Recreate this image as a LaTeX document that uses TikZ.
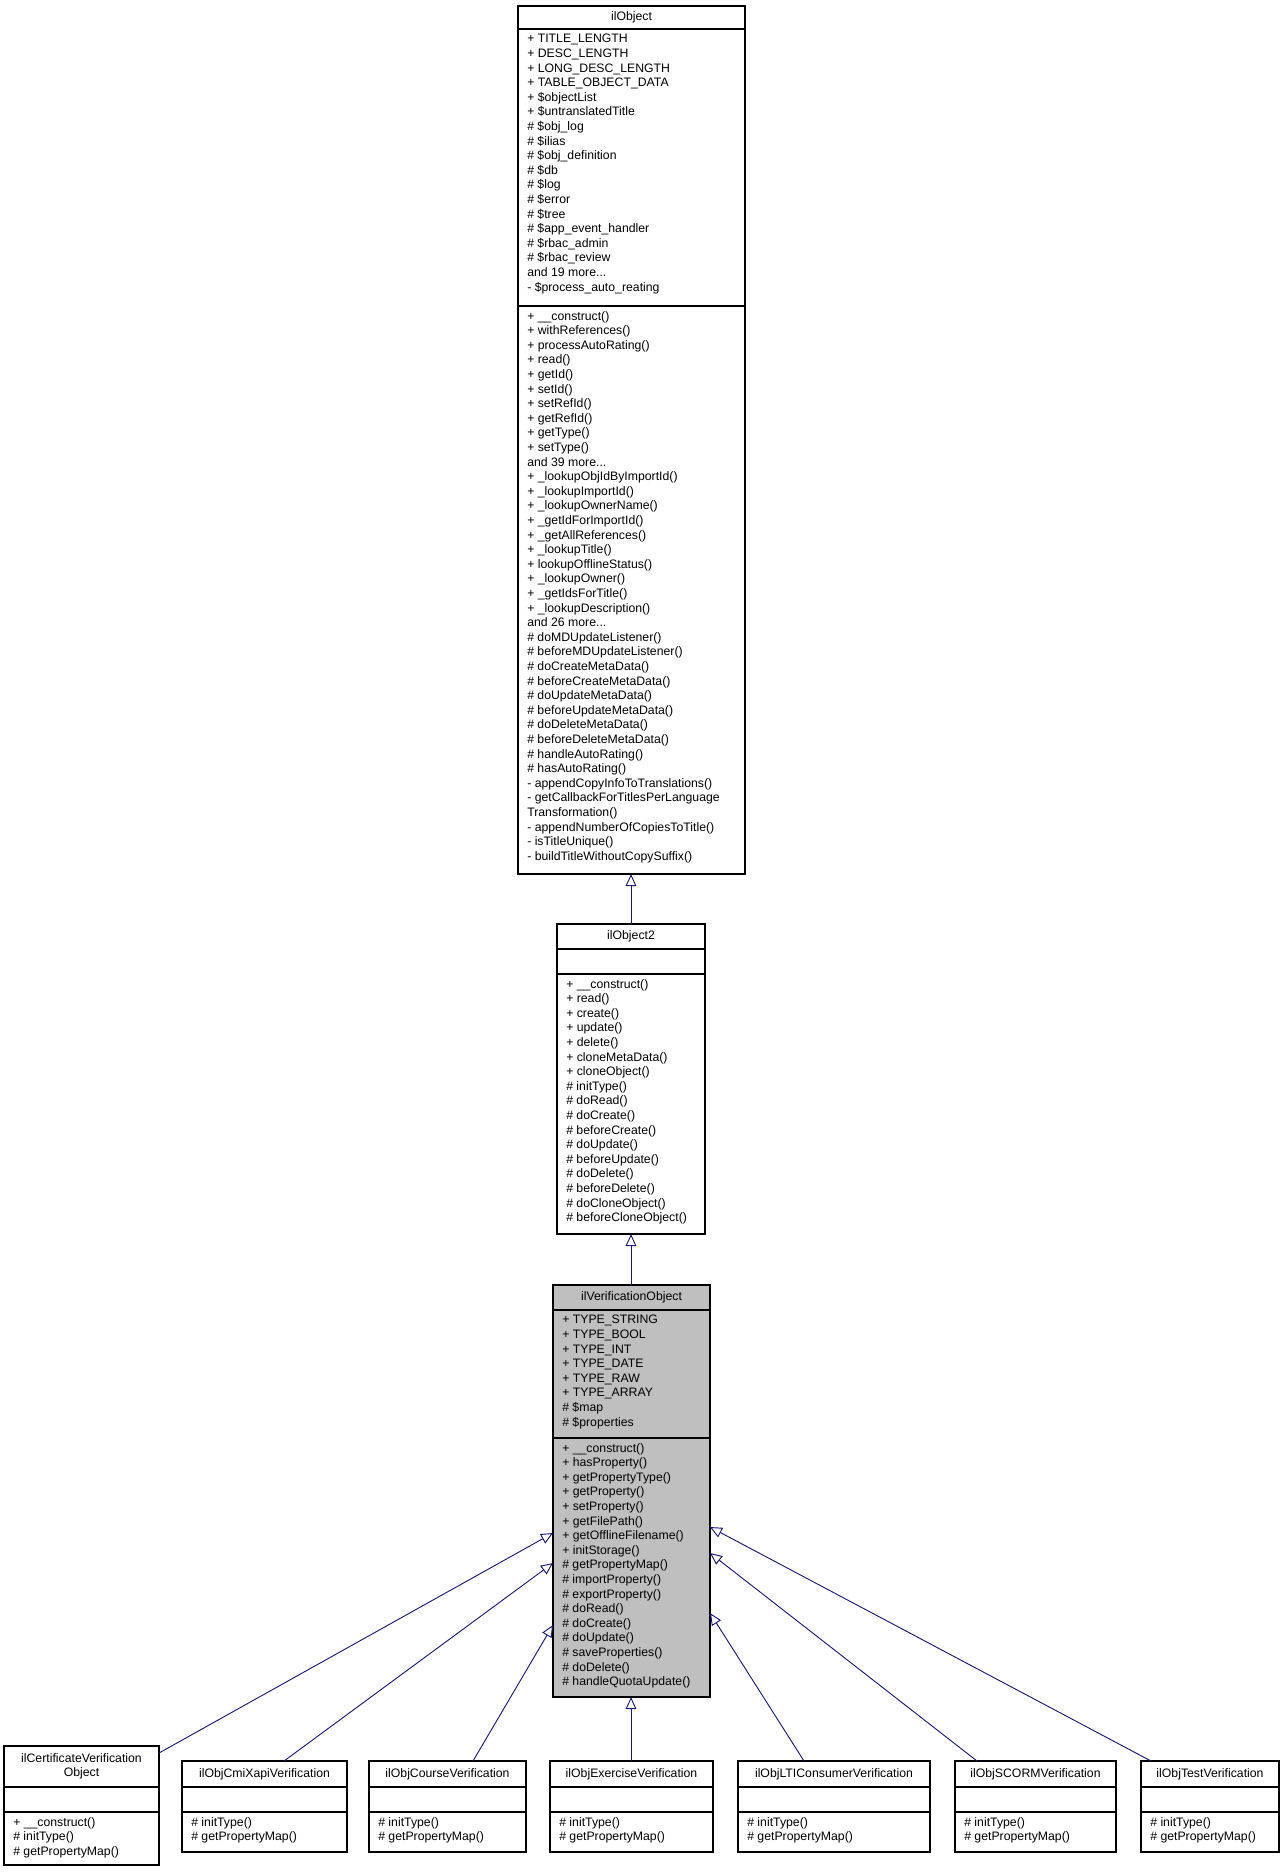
\documentclass[tikz,border=0pt]{standalone}
\usepackage{fontspec}
\setmainfont{Liberation Sans}
\usetikzlibrary{fit,arrows.meta}
\definecolor{edge}{HTML}{191970}
\tikzset{
  boxsty/.style={draw=black, line width=0.8pt, inner sep=0pt},
  txt/.style={inner sep=0pt, align=left, anchor=north west, font=\fontsize{9.2}{10.95}\selectfont},
  ttl/.style={inner sep=0pt, align=center, anchor=center, font=\fontsize{9.2}{10.95}\selectfont},
  inh/.style={draw=edge, line width=0.7pt, -{Triangle[open, length=9pt, width=8pt, fill=white]}}
}
% name x1 x2 ytop d1 d2 ybot fill title attrs methods
\newcommand{\umlbox}[9]{%
  \coordinate (#1-a) at (#2,#4);
  \coordinate (#1-b) at (#3,#7);
  \fill[#8] (#1-a) rectangle (#1-b);
  \node[boxsty, fit=(#1-a)(#1-b)] (#1) {};
  \draw[line width=0.8pt] (#2,#5) -- (#3,#5);
  \draw[line width=0.8pt] (#2,#6) -- (#3,#6);
  \node[ttl] (#1-t) at ({(#2+#3)/2},{(#4+#5)/2}) {#9};
}
\begin{document}
\begin{tikzpicture}[x=0.75pt,y=-0.75pt]
\useasboundingbox[fill=white] (0,0) rectangle (1285,1872);

\umlbox{obj}{518}{745}{6}{29}{306}{874}{white}{ilObject}
\node[txt] at (527,34) {+ TITLE\_LENGTH\\+ DESC\_LENGTH\\+ LONG\_DESC\_LENGTH\\+ TABLE\_OBJECT\_DATA\\+ \$objectList\\+ \$untranslatedTitle\\\# \$obj\_log\\\# \$ilias\\\# \$obj\_definition\\\# \$db\\\# \$log\\\# \$error\\\# \$tree\\\# \$app\_event\_handler\\\# \$rbac\_admin\\\# \$rbac\_review\\and 19 more...\\- \$process\_auto\_reating};
\node[txt] at (527,311) {+ \_\_construct()\\+ withReferences()\\+ processAutoRating()\\+ read()\\+ getId()\\+ setId()\\+ setRefId()\\+ getRefId()\\+ getType()\\+ setType()\\and 39 more...\\+ \_lookupObjIdByImportId()\\+ \_lookupImportId()\\+ \_lookupOwnerName()\\+ \_getIdForImportId()\\+ \_getAllReferences()\\+ \_lookupTitle()\\+ lookupOfflineStatus()\\+ \_lookupOwner()\\+ \_getIdsForTitle()\\+ \_lookupDescription()\\and 26 more...\\\# doMDUpdateListener()\\\# beforeMDUpdateListener()\\\# doCreateMetaData()\\\# beforeCreateMetaData()\\\# doUpdateMetaData()\\\# beforeUpdateMetaData()\\\# doDeleteMetaData()\\\# beforeDeleteMetaData()\\\# handleAutoRating()\\\# hasAutoRating()\\- appendCopyInfoToTranslations()\\- getCallbackForTitlesPerLanguage\\Transformation()\\- appendNumberOfCopiesToTitle()\\- isTitleUnique()\\- buildTitleWithoutCopySuffix()};

\umlbox{obj2}{557}{705}{924}{949}{974}{1234}{white}{ilObject2}
\node[txt] at (566,979) {+ \_\_construct()\\+ read()\\+ create()\\+ update()\\+ delete()\\+ cloneMetaData()\\+ cloneObject()\\\# initType()\\\# doRead()\\\# doCreate()\\\# beforeCreate()\\\# doUpdate()\\\# beforeUpdate()\\\# doDelete()\\\# beforeDelete()\\\# doCloneObject()\\\# beforeCloneObject()};

\umlbox{ver}{553}{710}{1285}{1310}{1438}{1697}{black!25}{ilVerificationObject}
\node[txt] at (562,1315) {+ TYPE\_STRING\\+ TYPE\_BOOL\\+ TYPE\_INT\\+ TYPE\_DATE\\+ TYPE\_RAW\\+ TYPE\_ARRAY\\\# \$map\\\# \$properties};
\node[txt] at (562,1443) {+ \_\_construct()\\+ hasProperty()\\+ getPropertyType()\\+ getProperty()\\+ setProperty()\\+ getFilePath()\\+ getOfflineFilename()\\+ initStorage()\\\# getPropertyMap()\\\# importProperty()\\\# exportProperty()\\\# doRead()\\\# doCreate()\\\# doUpdate()\\\# saveProperties()\\\# doDelete()\\\# handleQuotaUpdate()};

\umlbox{cert}{4}{159}{1746}{1787}{1812}{1865}{white}{ilCertificateVerification\\Object}
\node[txt] at (13,1817) {+ \_\_construct()\\\# initType()\\\# getPropertyMap()};

\umlbox{cmi}{182}{347}{1761}{1787}{1812}{1852}{white}{ilObjCmiXapiVerification}
\node[txt] at (191,1817) {\# initType()\\\# getPropertyMap()};
\umlbox{crs}{369}{526}{1761}{1787}{1812}{1852}{white}{ilObjCourseVerification}
\node[txt] at (378,1817) {\# initType()\\\# getPropertyMap()};
\umlbox{exc}{550}{713}{1761}{1787}{1812}{1852}{white}{ilObjExerciseVerification}
\node[txt] at (559,1817) {\# initType()\\\# getPropertyMap()};
\umlbox{lti}{738}{930}{1761}{1787}{1812}{1852}{white}{ilObjLTIConsumerVerification}
\node[txt] at (747,1817) {\# initType()\\\# getPropertyMap()};
\umlbox{scorm}{955}{1116}{1761}{1787}{1812}{1852}{white}{ilObjSCORMVerification}
\node[txt] at (964,1817) {\# initType()\\\# getPropertyMap()};
\umlbox{tst}{1141}{1279}{1761}{1787}{1812}{1852}{white}{ilObjTestVerification}
\node[txt] at (1150,1817) {\# initType()\\\# getPropertyMap()};

\coordinate (p1) at (631,874);
\coordinate (c1) at (631,924);
\draw[inh] (c1) -- (p1);
\coordinate (p2) at (631,1234);
\coordinate (c2) at (631,1285);
\draw[inh] (c2) -- (p2);

\coordinate (cc1) at (159,1753); \coordinate (vp1) at (553,1533);
\coordinate (cc2) at (284,1761); \coordinate (vp2) at (553,1563);
\coordinate (cc3) at (473,1761); \coordinate (vp3) at (553,1625);
\coordinate (cc4) at (631,1761); \coordinate (vp4) at (631,1697);
\coordinate (cc5) at (804,1761); \coordinate (vp5) at (710,1613);
\coordinate (cc6) at (977,1761); \coordinate (vp6) at (710,1553);
\coordinate (cc7) at (1151,1761); \coordinate (vp7) at (710,1527);
\foreach \i in {1,...,7} { \draw[inh] (cc\i) -- (vp\i); }
\end{tikzpicture}
\end{document}
